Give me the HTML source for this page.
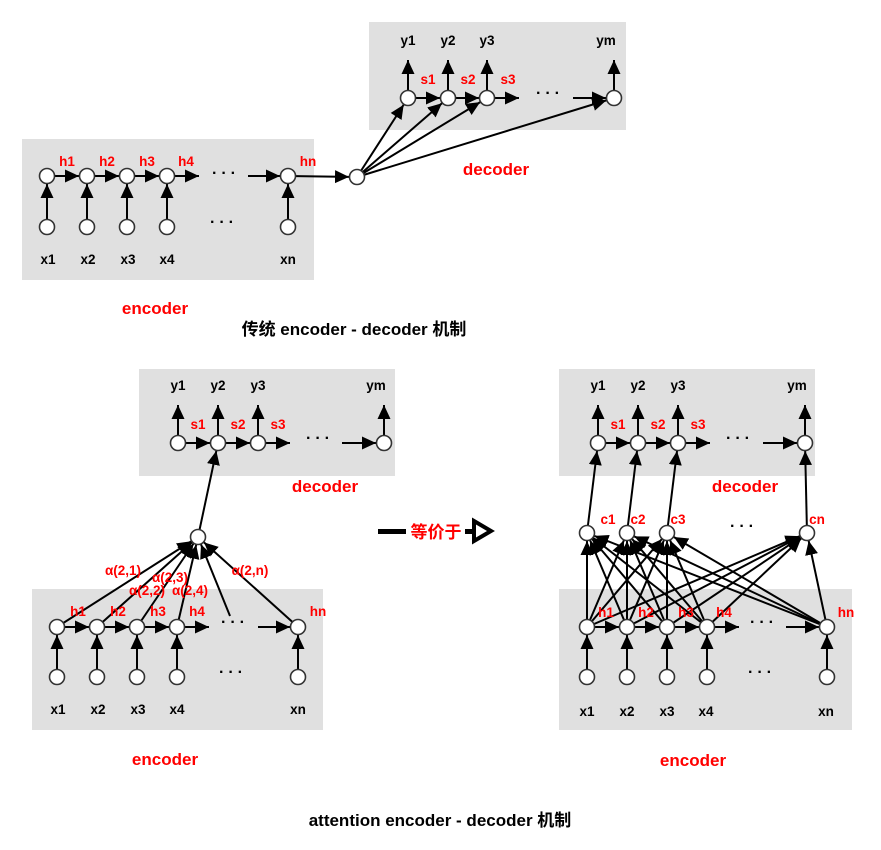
<!DOCTYPE html>
<html><head><meta charset="utf-8"><style>
html,body{margin:0;padding:0;background:#fff;}
svg{display:block}
text{font-family:"Liberation Sans","Noto Sans CJK SC",sans-serif;font-weight:bold;}
.k{font-size:13.5px;fill:#000;text-anchor:middle}
.r{font-size:13.5px;fill:#f00;text-anchor:middle}
.big{font-size:17px;fill:#f00;text-anchor:middle}
.ttl{font-size:17px;fill:#000;text-anchor:middle}
.d{font-size:16px;fill:#000;text-anchor:middle;letter-spacing:4px}
line{stroke:#000;stroke-width:2}
circle{fill:#fff;stroke:#333;stroke-width:1.6}
</style></head><body>
<svg width="881" height="850" viewBox="0 0 881 850" xmlns="http://www.w3.org/2000/svg">
<defs>
<marker id="m" markerUnits="userSpaceOnUse" markerWidth="40" markerHeight="20" refX="22" refY="6.5" orient="auto"><path d="M0,0 L14,6.5 L0,13 z" fill="#000"/></marker>
<marker id="t" markerUnits="userSpaceOnUse" markerWidth="20" markerHeight="20" refX="14" refY="6.5" orient="auto"><path d="M0,0 L14,6.5 L0,13 z" fill="#000"/></marker>
</defs>
<rect x="22" y="139" width="292" height="141" fill="#e0e0e0"/>
<rect x="369" y="22" width="257" height="108" fill="#e0e0e0"/>
<rect x="139" y="369" width="256" height="107" fill="#e0e0e0"/>
<rect x="32" y="589" width="291" height="141" fill="#e0e0e0"/>
<rect x="559" y="369" width="256" height="107" fill="#e0e0e0"/>
<rect x="559" y="589" width="293" height="141" fill="#e0e0e0"/>

<g>
<line x1="47" y1="227" x2="47" y2="176" marker-end="url(#m)"/>
<line x1="87" y1="227" x2="87" y2="176" marker-end="url(#m)"/>
<line x1="127" y1="227" x2="127" y2="176" marker-end="url(#m)"/>
<line x1="167" y1="227" x2="167" y2="176" marker-end="url(#m)"/>
<line x1="288" y1="227" x2="288" y2="176" marker-end="url(#m)"/>
<line x1="47" y1="176" x2="87" y2="176" marker-end="url(#m)"/>
<line x1="87" y1="176" x2="127" y2="176" marker-end="url(#m)"/>
<line x1="127" y1="176" x2="167" y2="176" marker-end="url(#m)"/>
<line x1="167" y1="176" x2="199" y2="176" marker-end="url(#t)"/>
<line x1="248" y1="176" x2="288" y2="176" marker-end="url(#m)"/>
<line x1="288" y1="176" x2="357" y2="177" marker-end="url(#m)"/>
<line x1="357" y1="177" x2="408" y2="98" marker-end="url(#m)"/>
<line x1="357" y1="177" x2="448" y2="98" marker-end="url(#m)"/>
<line x1="357" y1="177" x2="487" y2="98" marker-end="url(#m)"/>
<line x1="357" y1="177" x2="614" y2="98" marker-end="url(#m)"/>
<line x1="408" y1="98" x2="448" y2="98" marker-end="url(#m)"/>
<line x1="448" y1="98" x2="487" y2="98" marker-end="url(#m)"/>
<line x1="487" y1="98" x2="519" y2="98" marker-end="url(#t)"/>
<line x1="573" y1="98" x2="614" y2="98" marker-end="url(#m)"/>
<line x1="408" y1="98" x2="408" y2="60" marker-end="url(#t)"/>
<line x1="448" y1="98" x2="448" y2="60" marker-end="url(#t)"/>
<line x1="487" y1="98" x2="487" y2="60" marker-end="url(#t)"/>
<line x1="614" y1="98" x2="614" y2="60" marker-end="url(#t)"/>
<circle cx="47" cy="176" r="7.5"/><circle cx="87" cy="176" r="7.5"/><circle cx="127" cy="176" r="7.5"/><circle cx="167" cy="176" r="7.5"/><circle cx="288" cy="176" r="7.5"/>
<circle cx="47" cy="227" r="7.5"/><circle cx="87" cy="227" r="7.5"/><circle cx="127" cy="227" r="7.5"/><circle cx="167" cy="227" r="7.5"/><circle cx="288" cy="227" r="7.5"/>
<circle cx="357" cy="177" r="7.5"/>
<circle cx="408" cy="98" r="7.5"/><circle cx="448" cy="98" r="7.5"/><circle cx="487" cy="98" r="7.5"/><circle cx="614" cy="98" r="7.5"/>
<text class="r" x="67" y="166">h1</text><text class="r" x="107" y="166">h2</text><text class="r" x="147" y="166">h3</text><text class="r" x="186" y="166">h4</text><text class="r" x="308" y="166">hn</text>
<text class="k" x="48" y="264">x1</text><text class="k" x="88" y="264">x2</text><text class="k" x="128" y="264">x3</text><text class="k" x="167" y="264">x4</text><text class="k" x="288" y="264">xn</text>
<text class="d" x="226" y="178">···</text><text class="d" x="224" y="227">···</text>
<text class="k" x="408" y="45">y1</text><text class="k" x="448" y="45">y2</text><text class="k" x="487" y="45">y3</text><text class="k" x="606" y="45">ym</text>
<text class="r" x="428" y="84">s1</text><text class="r" x="468" y="84">s2</text><text class="r" x="508" y="84">s3</text>
<text class="d" x="550" y="98">···</text>
<text class="big" x="496" y="175">decoder</text>
<text class="big" x="155" y="314">encoder</text>
<text class="ttl" x="354" y="335">传统 encoder - decoder 机制</text>
</g>

<g>
<line x1="57" y1="677" x2="57" y2="627" marker-end="url(#m)"/>
<line x1="97" y1="677" x2="97" y2="627" marker-end="url(#m)"/>
<line x1="137" y1="677" x2="137" y2="627" marker-end="url(#m)"/>
<line x1="177" y1="677" x2="177" y2="627" marker-end="url(#m)"/>
<line x1="298" y1="677" x2="298" y2="627" marker-end="url(#m)"/>
<line x1="57" y1="627" x2="97" y2="627" marker-end="url(#m)"/>
<line x1="97" y1="627" x2="137" y2="627" marker-end="url(#m)"/>
<line x1="137" y1="627" x2="177" y2="627" marker-end="url(#m)"/>
<line x1="177" y1="627" x2="209" y2="627" marker-end="url(#t)"/>
<line x1="258" y1="627" x2="298" y2="627" marker-end="url(#m)"/>
<line x1="57" y1="627" x2="198" y2="537" marker-end="url(#m)"/>
<line x1="97" y1="627" x2="198" y2="537" marker-end="url(#m)"/>
<line x1="137" y1="627" x2="198" y2="537" marker-end="url(#m)"/>
<line x1="177" y1="627" x2="198" y2="537" marker-end="url(#m)"/>
<line x1="230" y1="616" x2="198" y2="537" marker-end="url(#m)"/>
<line x1="298" y1="627" x2="198" y2="537" marker-end="url(#m)"/>
<line x1="198" y1="537" x2="218" y2="443" marker-end="url(#m)"/>
<line x1="178" y1="443" x2="218" y2="443" marker-end="url(#m)"/>
<line x1="218" y1="443" x2="258" y2="443" marker-end="url(#m)"/>
<line x1="258" y1="443" x2="290" y2="443" marker-end="url(#t)"/>
<line x1="342" y1="443" x2="384" y2="443" marker-end="url(#m)"/>
<line x1="178" y1="443" x2="178" y2="405" marker-end="url(#t)"/>
<line x1="218" y1="443" x2="218" y2="405" marker-end="url(#t)"/>
<line x1="258" y1="443" x2="258" y2="405" marker-end="url(#t)"/>
<line x1="384" y1="443" x2="384" y2="405" marker-end="url(#t)"/>
<circle cx="57" cy="627" r="7.5"/><circle cx="97" cy="627" r="7.5"/><circle cx="137" cy="627" r="7.5"/><circle cx="177" cy="627" r="7.5"/><circle cx="298" cy="627" r="7.5"/>
<circle cx="57" cy="677" r="7.5"/><circle cx="97" cy="677" r="7.5"/><circle cx="137" cy="677" r="7.5"/><circle cx="177" cy="677" r="7.5"/><circle cx="298" cy="677" r="7.5"/>
<circle cx="198" cy="537" r="7.5"/>
<circle cx="178" cy="443" r="7.5"/><circle cx="218" cy="443" r="7.5"/><circle cx="258" cy="443" r="7.5"/><circle cx="384" cy="443" r="7.5"/>
<text class="r" x="78" y="616">h1</text><text class="r" x="118" y="616">h2</text><text class="r" x="158" y="616">h3</text><text class="r" x="197" y="616">h4</text><text class="r" x="318" y="616">hn</text>
<text class="k" x="58" y="714">x1</text><text class="k" x="98" y="714">x2</text><text class="k" x="138" y="714">x3</text><text class="k" x="177" y="714">x4</text><text class="k" x="298" y="714">xn</text>
<text class="d" x="235" y="627">···</text><text class="d" x="233" y="677">···</text>
<text class="r" x="123" y="575">α(2,1)</text><text class="r" x="147" y="595">α(2,2)</text><text class="r" x="170" y="582">α(2,3)</text><text class="r" x="190" y="595">α(2,4)</text><text class="r" x="250" y="575">α(2,n)</text>
<text class="k" x="178" y="390">y1</text><text class="k" x="218" y="390">y2</text><text class="k" x="258" y="390">y3</text><text class="k" x="376" y="390">ym</text>
<text class="r" x="198" y="429">s1</text><text class="r" x="238" y="429">s2</text><text class="r" x="278" y="429">s3</text>
<text class="d" x="320" y="443">···</text>
<text class="big" x="325" y="492">decoder</text>
<text class="big" x="165" y="765">encoder</text>
</g>

<rect x="378" y="529" width="28" height="5" fill="#000"/>
<text x="436" y="538" style="font-size:17px;fill:#f00;text-anchor:middle">等价于</text>
<rect x="465" y="529" width="8" height="5" fill="#000"/>
<path d="M474,521 L491,531 L474,541 z" fill="#fff" stroke="#000" stroke-width="4"/>

<g>
<line x1="587" y1="677" x2="587" y2="627" marker-end="url(#m)"/>
<line x1="627" y1="677" x2="627" y2="627" marker-end="url(#m)"/>
<line x1="667" y1="677" x2="667" y2="627" marker-end="url(#m)"/>
<line x1="707" y1="677" x2="707" y2="627" marker-end="url(#m)"/>
<line x1="827" y1="677" x2="827" y2="627" marker-end="url(#m)"/>
<line x1="587" y1="627" x2="627" y2="627" marker-end="url(#m)"/>
<line x1="627" y1="627" x2="667" y2="627" marker-end="url(#m)"/>
<line x1="667" y1="627" x2="707" y2="627" marker-end="url(#m)"/>
<line x1="707" y1="627" x2="739" y2="627" marker-end="url(#t)"/>
<line x1="786" y1="627" x2="827" y2="627" marker-end="url(#m)"/>
<line x1="587" y1="627" x2="587" y2="533" marker-end="url(#m)"/>
<line x1="587" y1="627" x2="627" y2="533" marker-end="url(#m)"/>
<line x1="587" y1="627" x2="667" y2="533" marker-end="url(#m)"/>
<line x1="587" y1="627" x2="807" y2="533" marker-end="url(#m)"/>
<line x1="627" y1="627" x2="587" y2="533" marker-end="url(#m)"/>
<line x1="627" y1="627" x2="627" y2="533" marker-end="url(#m)"/>
<line x1="627" y1="627" x2="667" y2="533" marker-end="url(#m)"/>
<line x1="627" y1="627" x2="807" y2="533" marker-end="url(#m)"/>
<line x1="667" y1="627" x2="587" y2="533" marker-end="url(#m)"/>
<line x1="667" y1="627" x2="627" y2="533" marker-end="url(#m)"/>
<line x1="667" y1="627" x2="667" y2="533" marker-end="url(#m)"/>
<line x1="667" y1="627" x2="807" y2="533" marker-end="url(#m)"/>
<line x1="707" y1="627" x2="587" y2="533" marker-end="url(#m)"/>
<line x1="707" y1="627" x2="627" y2="533" marker-end="url(#m)"/>
<line x1="707" y1="627" x2="667" y2="533" marker-end="url(#m)"/>
<line x1="707" y1="627" x2="807" y2="533" marker-end="url(#m)"/>
<line x1="827" y1="627" x2="587" y2="533" marker-end="url(#m)"/>
<line x1="827" y1="627" x2="627" y2="533" marker-end="url(#m)"/>
<line x1="827" y1="627" x2="667" y2="533" marker-end="url(#m)"/>
<line x1="827" y1="627" x2="807" y2="533" marker-end="url(#m)"/>
<line x1="587" y1="533" x2="598" y2="443" marker-end="url(#m)"/>
<line x1="627" y1="533" x2="638" y2="443" marker-end="url(#m)"/>
<line x1="667" y1="533" x2="678" y2="443" marker-end="url(#m)"/>
<line x1="807" y1="533" x2="805" y2="443" marker-end="url(#m)"/>
<line x1="598" y1="443" x2="638" y2="443" marker-end="url(#m)"/>
<line x1="638" y1="443" x2="678" y2="443" marker-end="url(#m)"/>
<line x1="678" y1="443" x2="710" y2="443" marker-end="url(#t)"/>
<line x1="763" y1="443" x2="805" y2="443" marker-end="url(#m)"/>
<line x1="598" y1="443" x2="598" y2="405" marker-end="url(#t)"/>
<line x1="638" y1="443" x2="638" y2="405" marker-end="url(#t)"/>
<line x1="678" y1="443" x2="678" y2="405" marker-end="url(#t)"/>
<line x1="805" y1="443" x2="805" y2="405" marker-end="url(#t)"/>
<circle cx="587" cy="627" r="7.5"/><circle cx="627" cy="627" r="7.5"/><circle cx="667" cy="627" r="7.5"/><circle cx="707" cy="627" r="7.5"/><circle cx="827" cy="627" r="7.5"/>
<circle cx="587" cy="677" r="7.5"/><circle cx="627" cy="677" r="7.5"/><circle cx="667" cy="677" r="7.5"/><circle cx="707" cy="677" r="7.5"/><circle cx="827" cy="677" r="7.5"/>
<circle cx="587" cy="533" r="7.5"/><circle cx="627" cy="533" r="7.5"/><circle cx="667" cy="533" r="7.5"/><circle cx="807" cy="533" r="7.5"/>
<circle cx="598" cy="443" r="7.5"/><circle cx="638" cy="443" r="7.5"/><circle cx="678" cy="443" r="7.5"/><circle cx="805" cy="443" r="7.5"/>
<text class="r" x="606" y="617">h1</text><text class="r" x="646" y="617">h2</text><text class="r" x="686" y="617">h3</text><text class="r" x="724" y="617">h4</text><text class="r" x="846" y="617">hn</text>
<text class="k" x="587" y="716">x1</text><text class="k" x="627" y="716">x2</text><text class="k" x="667" y="716">x3</text><text class="k" x="706" y="716">x4</text><text class="k" x="826" y="716">xn</text>
<text class="d" x="764" y="627">···</text><text class="d" x="762" y="677">···</text>
<text class="r" x="608" y="524">c1</text><text class="r" x="638" y="524">c2</text><text class="r" x="678" y="524">c3</text><text class="r" x="817" y="524">cn</text>
<text class="d" x="744" y="531">···</text>
<text class="k" x="598" y="390">y1</text><text class="k" x="638" y="390">y2</text><text class="k" x="678" y="390">y3</text><text class="k" x="797" y="390">ym</text>
<text class="r" x="618" y="429">s1</text><text class="r" x="658" y="429">s2</text><text class="r" x="698" y="429">s3</text>
<text class="d" x="740" y="443">···</text>
<text class="big" x="745" y="492">decoder</text>
<text class="big" x="693" y="766">encoder</text>
<text class="ttl" x="440" y="826">attention encoder - decoder 机制</text>
</g>
</svg>
</body></html>
